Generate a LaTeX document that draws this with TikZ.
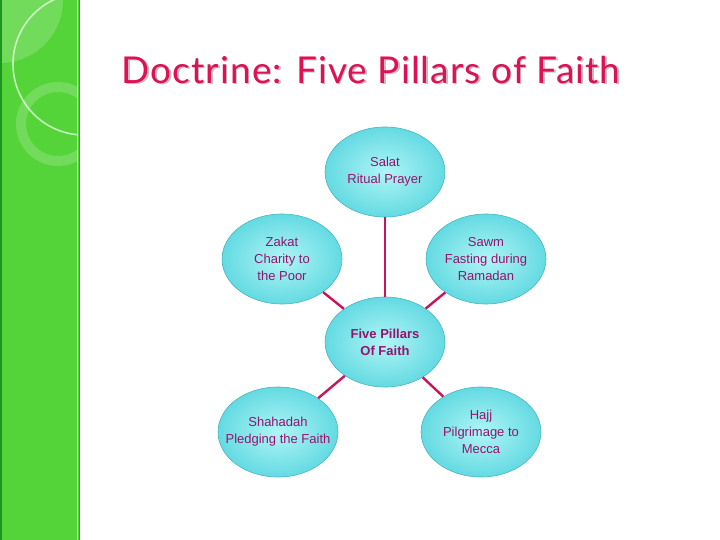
\documentclass[tikz,border=0pt]{standalone}
\usepackage{fontspec}
\setmainfont{Liberation Sans}
\newfontfamily\titlefont[LetterSpace=3]{Lato}
\usepackage{tikz}
\usetikzlibrary{shapes.geometric}
\definecolor{barcol}{RGB}{84,212,56}
\definecolor{bardark}{RGB}{28,150,30}
\definecolor{titlecol}{RGB}{220,18,84}
\definecolor{bubbleout}{RGB}{100,218,226}
\definecolor{bubblein}{RGB}{175,245,246}
\definecolor{bubbleline}{RGB}{75,180,192}
\definecolor{labelcol}{RGB}{150,20,110}
\definecolor{linkcol}{RGB}{200,20,90}
\tikzset{
  pillar/.style={ellipse, draw=bubbleline, line width=0.6pt,
                 inner color=bubblein, outer color=bubbleout,
                 minimum width=120pt, minimum height=90pt, inner ysep=0pt, inner xsep=-14pt,
                 align=center, text=labelcol, font=\fontsize{13}{17}\selectfont},
  hubpillar/.style={pillar, font=\fontsize{13}{17}\selectfont\bfseries},
  link/.style={draw=linkcol, line width=2.4pt},
  deco/.style={white, opacity=0.18},
}

\begin{document}
\begin{tikzpicture}[x=1pt, y=-1pt]
  \useasboundingbox (0,0) rectangle (720,540);
  % side bar
  \fill[barcol] (0,0) rectangle (79,540);
  \begin{scope}
    \clip (0,0) rectangle (77,540);
    \fill[deco] (0,0) circle (63);
    \draw[white, opacity=0.65, line width=1.6pt] (84,64) circle (71);
    \draw[deco, line width=10pt] (58,124) circle (37);
  \end{scope}
  \draw[bardark, line width=1.5pt] (0.75,0) -- (0.75,540);
  \draw[white, opacity=0.6, line width=1pt] (77.5,0) -- (77.5,540);
  \draw[bardark!70!barcol, line width=1pt] (79,0) -- (79,540);
  % title
  \node[text=black!25, font=\titlefont\fontsize{37}{42}\selectfont] (shade) at (372.5,71.5) {Doctrine: Five Pillars of Faith};
  \node[text=titlecol, font=\titlefont\fontsize{37}{42}\selectfont] (title) at (371,70) {Doctrine: Five Pillars of Faith};
  % pillars
  \node[hubpillar] (hub) at (385,342) {Five Pillars\\Of Faith};
  \node[pillar] (salat) at (385,172) {Salat\\Ritual Prayer};
  \node[pillar] (zakat) at (282,259) {Zakat\\Charity to\\the Poor};
  \node[pillar] (sawm) at (486,259) {Sawm\\Fasting during\\Ramadan};
  \node[pillar] (shahadah) at (278,432) {Shahadah\\Pledging the Faith};
  \node[pillar] (hajj) at (481,432) {Hajj\\Pilgrimage to\\Mecca};
  % links
  \draw[link] (salat) -- (hub);
  \draw[link] (zakat) -- (hub);
  \draw[link] (sawm) -- (hub);
  \draw[link] (shahadah) -- (hub);
  \draw[link] (hajj) -- (hub);
\end{tikzpicture}
\end{document}
